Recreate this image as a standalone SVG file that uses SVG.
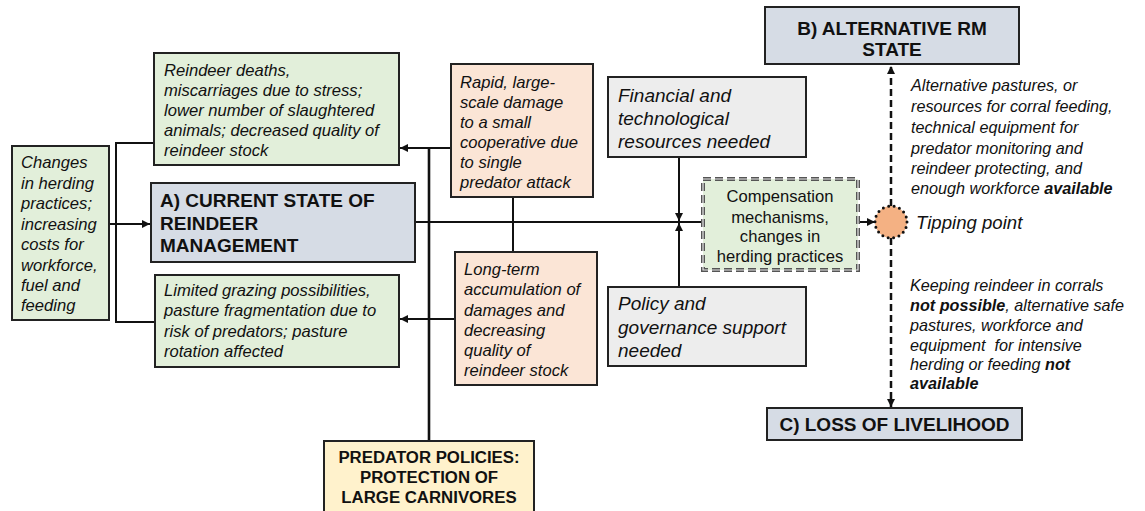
<svg xmlns="http://www.w3.org/2000/svg" width="1145" height="511" viewBox="0 0 1145 511">
<style>
.box{stroke:#222;stroke-width:2}
.g{fill:#e2efda}.b{fill:#d6dce5}.p{fill:#fbe5d6}.gr{fill:#ededed}.y{fill:#fff2cc}
.it{font-family:"Liberation Sans",Arial,sans-serif;font-style:italic;font-size:16.6px;fill:#111}
.itl{font-family:"Liberation Sans",Arial,sans-serif;font-style:italic;font-size:19px;fill:#111}
.hd{font-family:"Liberation Sans",Arial,sans-serif;font-weight:bold;font-size:19px;fill:#111}
.hs{font-family:"Liberation Sans",Arial,sans-serif;font-weight:bold;font-size:16.8px;fill:#111;text-anchor:middle}
.rg{font-family:"Liberation Sans",Arial,sans-serif;font-size:16.6px;fill:#111;text-anchor:middle}
.ln{stroke:#111;stroke-width:2;fill:none}
.dl{stroke:#111;stroke-width:2.5;fill:none;stroke-dasharray:7,4}
</style>
<defs>
<marker id="ah" markerUnits="userSpaceOnUse" markerWidth="9" markerHeight="8" refX="8" refY="4" orient="auto">
<path d="M0,0 L8,4 L0,8 z" fill="#111"/>
</marker>
</defs>
<g id="connectors">
<line class="ln" x1="109" y1="224" x2="150" y2="224" marker-end="url(#ah)"/>
<path class="ln" d="M154,143 H116 V322 H155"/>
<line class="ln" x1="451" y1="148" x2="400" y2="148" marker-end="url(#ah)"/>
<line class="ln" x1="455" y1="319" x2="400" y2="319" marker-end="url(#ah)"/>
<line class="ln" style="stroke-width:2.6" x1="429" y1="148" x2="429" y2="441"/>
<line class="ln" x1="513" y1="197" x2="513" y2="252"/>
<line class="ln" x1="415" y1="222" x2="702" y2="222"/>
<line class="ln" x1="679" y1="157" x2="679" y2="221" marker-end="url(#ah)"/>
<line class="ln" x1="679" y1="287" x2="679" y2="223" marker-end="url(#ah)"/>
<line class="ln" x1="858" y1="222" x2="875" y2="222" marker-end="url(#ah)"/>
<line class="dl" x1="891" y1="206" x2="891" y2="66" marker-end="url(#ah)"/>
<line class="dl" x1="891" y1="238" x2="891" y2="407" marker-end="url(#ah)"/>
</g>
<g id="changes">
<rect class="box g" x="12" y="146" width="97" height="174"/>
<text class="it"><tspan x="21" y="168">Changes</tspan><tspan x="21" y="189">in herding</tspan><tspan x="21" y="209">practices;</tspan><tspan x="21" y="230">increasing</tspan><tspan x="21" y="250">costs for</tspan><tspan x="21" y="271">workforce,</tspan><tspan x="21" y="291">fuel and</tspan><tspan x="21" y="311">feeding</tspan></text>
</g>
<g id="deaths">
<rect class="box g" x="154" y="53" width="245" height="112"/>
<text class="it"><tspan x="164" y="76">Reindeer deaths,</tspan><tspan x="164" y="96">miscarriages due to stress;</tspan><tspan x="164" y="116">lower number of slaughtered</tspan><tspan x="164" y="136">animals; decreased quality of</tspan><tspan x="164" y="156">reindeer stock</tspan></text>
</g>
<g id="stateA">
<rect class="box b" x="151" y="183" width="264" height="79"/>
<text class="hd"><tspan x="160" y="207">A) CURRENT STATE OF</tspan><tspan x="160" y="230">REINDEER</tspan><tspan x="160" y="252">MANAGEMENT</tspan></text>
</g>
<g id="grazing">
<rect class="box g" x="155" y="275" width="244" height="92"/>
<text class="it"><tspan x="164" y="296">Limited grazing possibilities,</tspan><tspan x="164" y="316">pasture fragmentation due to</tspan><tspan x="164" y="337">risk of predators; pasture</tspan><tspan x="164" y="357">rotation affected</tspan></text>
</g>
<g id="rapid">
<rect class="box p" x="451" y="64" width="142" height="133"/>
<text class="it"><tspan x="460" y="88">Rapid, large-</tspan><tspan x="460" y="108">scale damage</tspan><tspan x="460" y="128">to a small</tspan><tspan x="460" y="148">cooperative due</tspan><tspan x="460" y="168">to single</tspan><tspan x="460" y="188">predator attack</tspan></text>
</g>
<g id="longterm">
<rect class="box p" x="455" y="252" width="142" height="133"/>
<text class="it"><tspan x="464" y="275">Long-term</tspan><tspan x="464" y="295">accumulation of</tspan><tspan x="464" y="316">damages and</tspan><tspan x="464" y="336">decreasing</tspan><tspan x="464" y="356">quality of</tspan><tspan x="464" y="376">reindeer stock</tspan></text>
</g>
<g id="predator">
<rect class="box y" x="324" y="441" width="210" height="76"/>
<text class="hs"><tspan x="429" y="463">PREDATOR POLICIES:</tspan><tspan x="429" y="483">PROTECTION OF</tspan><tspan x="429" y="503">LARGE CARNIVORES</tspan></text>
</g>
<g id="financial">
<rect class="box gr" x="608" y="77" width="198" height="80"/>
<text class="itl"><tspan x="618" y="102">Financial and</tspan><tspan x="618" y="125">technological</tspan><tspan x="618" y="148">resources needed</tspan></text>
</g>
<g id="policy">
<rect class="box gr" x="608" y="287" width="198" height="79"/>
<text class="itl"><tspan x="618" y="310">Policy and</tspan><tspan x="618" y="334">governance support</tspan><tspan x="618" y="357">needed</tspan></text>
</g>
<g id="compensation">
<rect x="703" y="179" width="155" height="91" fill="#e2efda" stroke="#555" stroke-width="4" stroke-dasharray="8,4"/>
<rect x="703" y="179" width="155" height="91" fill="none" stroke="#e8e8e8" stroke-width="1.2" stroke-dasharray="8,4"/>
<text class="rg"><tspan x="780" y="202">Compensation</tspan><tspan x="780" y="223">mechanisms,</tspan><tspan x="780" y="242">changes in</tspan><tspan x="780" y="262">herding practices</tspan></text>
</g>
<g id="tipping">
<circle cx="891" cy="222" r="16" fill="#f4b183" stroke="#111" stroke-width="3" stroke-linecap="round" stroke-dasharray="0,5.58"/>
<text class="it" style="font-size:18.6px" x="916" y="229">Tipping point</text>
</g>
<g id="stateB">
<rect class="box b" x="765" y="7" width="254" height="57"/>
<text class="hd" text-anchor="middle"><tspan x="892" y="35">B) ALTERNATIVE RM</tspan><tspan x="892" y="56">STATE</tspan></text>
</g>
<g id="stateC">
<rect class="box b" x="767" y="408" width="255" height="32"/>
<text class="hd" text-anchor="middle" x="894.5" y="431">C) LOSS OF LIVELIHOOD</text>
</g>
<g id="labelB">
<text class="it" style="font-size:16.2px"><tspan x="911" y="91">Alternative pastures, or</tspan><tspan x="911" y="112">resources for corral feeding,</tspan><tspan x="911" y="133">technical equipment for</tspan><tspan x="911" y="154">predator monitoring and</tspan><tspan x="911" y="174">reindeer protecting, and</tspan><tspan x="911" y="194">enough workforce <tspan font-weight="bold">available</tspan></tspan></text>
</g>
<g id="labelC">
<text class="it" style="font-size:16.2px"><tspan x="910" y="291">Keeping reindeer in corrals</tspan><tspan x="910" y="311"><tspan font-weight="bold">not possible</tspan>, alternative safe</tspan><tspan x="910" y="331">pastures, workforce and</tspan><tspan x="910" y="351">equipment&#160; for intensive</tspan><tspan x="910" y="370">herding or feeding <tspan font-weight="bold">not</tspan></tspan><tspan x="910" y="389" font-weight="bold">available</tspan></text>
</g>
</svg>
